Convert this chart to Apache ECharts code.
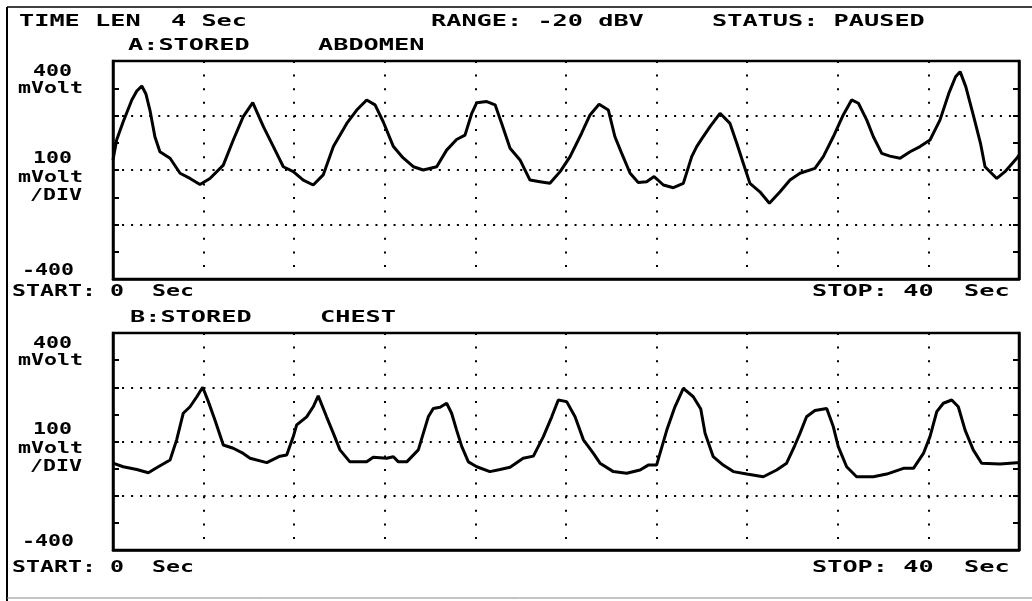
<!DOCTYPE html>
<html>
<head>
<meta charset="utf-8">
<script src="https://cdn.jsdelivr.net/npm/echarts@6/dist/echarts.min.js"></script>
<style>
  html, body { margin: 0; padding: 0; background: #fff; }
  #chart { width: 1032px; height: 601px; }
</style>
</head>
<body>
<div id="chart"></div>
<script>
// channel A (abdomen): time in sec, value in mVolt
const abdomenT = [0, 0.16, 0.45, 0.83, 1.05, 1.27, 1.45, 1.63, 1.85, 2.07, 2.52, 2.96, 3.4, 3.84, 4.28, 4.87,
  5.31, 5.75, 6.17, 6.64, 7.08, 7.52, 7.96, 8.4, 8.84, 9.28, 9.73, 10.32, 10.76, 11.2, 11.57, 11.93,
  12.38, 12.8, 13.26, 13.7, 14.29, 14.73, 15.17, 15.54, 15.84, 16.06, 16.5, 16.87, 17.16, 17.53, 17.97,
  18.41, 18.85, 19.29, 19.74, 20.18, 20.69, 21.06, 21.46, 21.87, 22.16, 22.46, 22.83, 23.19, 23.56,
  23.89, 24.3, 24.74, 25.18, 25.55, 25.77, 26.0, 26.36, 26.8, 27.24, 27.54, 27.83, 28.12, 28.56, 28.98,
  29.45, 29.89, 30.33, 30.99, 31.36, 31.8, 32.24, 32.61, 32.91, 33.28, 33.57, 33.94, 34.3, 34.75, 35.19,
  35.63, 36.07, 36.51, 36.9, 37.2, 37.4, 37.65, 38.0, 38.3, 38.5, 39.02, 39.38, 39.9, 40];
const abdomenV = [37, 110, 177, 257, 290, 308, 280, 220, 122, 67, 43, -12, -31, -53, -31, 18,
  110, 196, 247, 159, 86, 12, -6, -37, -55, -18, 86, 171, 220, 257, 239, 177,
  86, 45, 12, 0, 12, 73, 112, 128, 208, 247, 251, 239, 171, 80, 37,
  -37, -43, -49, -6, 49, 135, 202, 241, 220, 122, 61, -12, -46, -43,
  -24, -55, -65, -49, 49, 86, 115, 159, 208, 171, 98, 24, -49, -80, -122,
  -80, -37, -12, 6, 49, 122, 202, 257, 245, 183, 122, 61, 51, 43, 67,
  86, 110, 183, 281, 342, 361, 306, 196, 98, 12, -31, -6, 43, 55];

// channel B (chest)
const chestT = [0, 0.45, 1.05, 1.56, 2.0, 2.52, 2.81, 3.1, 3.4, 3.7, 3.96, 4.21, 4.5, 4.87, 5.31, 5.75,
  6.05, 6.79, 7.37, 7.67, 7.96, 8.11, 8.55, 8.84, 9.06, 9.43, 9.73, 10.02, 10.46, 11.2, 11.49, 12.08,
  12.38, 12.6, 12.97, 13.48, 13.7, 13.92, 14.14, 14.44, 14.73, 14.95, 15.17, 15.4, 15.69, 16.06, 16.64,
  17.09, 17.53, 18.11, 18.56, 19.0, 19.37, 19.66, 20.03, 20.4, 20.77, 21.21, 21.5, 22.09, 22.68, 23.27,
  23.63, 24.0, 24.15, 24.45, 24.81, 25.18, 25.62, 25.95, 26.14, 26.5, 26.94, 27.39, 27.98, 28.71, 29.3,
  29.74, 30.11, 30.33, 30.62, 30.99, 31.51, 31.8, 32.02, 32.39, 32.83, 33.57, 34.16, 34.9, 35.34, 35.78,
  36.07, 36.37, 36.66, 37.03, 37.32, 37.62, 37.98, 38.35, 39.16, 39.9, 40];
const chestV = [-80, -93, -103, -115, -93, -68, 6, 104, 128, 165, 200, 147, 79, -13, -25, -44,
  -62, -78, -54, -50, 18, 61, 91, 128, 168, 91, 30, -31, -75, -75, -58, -62,
  -56, -75, -75, -31, 30, 91, 122, 126, 141, 104, 42, -19, -75, -93, -111,
  -103, -95, -62, -54, 18, 91, 153, 147, 91, 6, -44, -80, -111, -117, -105,
  -87, -87, -44, 42, 128, 196, 165, 120, 30, -56, -87, -111, -120, -130, -105,
  -80, -13, 30, 91, 114, 122, 55, -19, -93, -130, -130, -120, -99, -99, -44,
  18, 110, 141, 153, 128, 42, -31, -80, -83, -78, -78];

const header = ['TIME LEN  4 Sec', 'RANGE: -20 dBV', 'STATUS: PAUSED'];
const channelA = ['A:STORED', 'ABDOMEN'];
const channelB = ['B:STORED', 'CHEST'];
const scaleTop = ['400', 'mVolt'];
const scaleMid = ['100', 'mVolt', '/DIV'];
const scaleBottom = '-400';
const startText = 'START: 0  Sec';
const stopText = 'STOP: 40  Sec';

const zip = (t, v) => t.map((x, i) => [x, v[i]]);

// DejaVu Sans Mono advance is ~0.602 em; stretch it to match the terminal cell width
const FONT_PX = 15;
function txt(s, x, y, pitch) {
  return {
    type: 'text', x: x, y: y,
    scaleX: pitch / (FONT_PX * 0.602),
    style: {
      text: s,
      font: 'bold ' + FONT_PX + 'px "DejaVu Sans Mono"',
      fill: '#000',
      verticalAlign: 'middle'
    }
  };
}

function panelLabels(top, zeroY, bottom) {
  return [
    txt(scaleTop[0], 33, top + 11, 13),
    txt(scaleTop[1], 18, top + 28, 13),
    txt(scaleMid[0], 33, zeroY - 11, 13),
    txt(scaleMid[1], 18, zeroY + 8, 13),
    txt(scaleMid[2], 30, zeroY + 26, 13),
    txt(scaleBottom, 22, bottom - 8, 13)
  ];
}

const grids = [
  { top: 61, height: 218 },
  { top: 333, height: 217 }
];

const xAxisBase = {
  type: 'value', min: 0, max: 40, interval: 4,
  axisLabel: { show: false }, axisTick: { show: false },
  axisLine: { show: true, onZero: false, lineStyle: { color: '#000', width: 2.5 } },
  splitLine: { show: true, lineStyle: { color: '#000', width: 2, type: [2, 11.6] } }
};
const yAxisBase = {
  type: 'value', min: -400, max: 400, interval: 200,
  axisLabel: { show: false },
  axisLine: { show: true, onZero: false, lineStyle: { color: '#000', width: 2.5 } },
  axisTick: { show: true, inside: true, length: 6, lineStyle: { color: '#000', width: 2 } },
  minorTick: { show: true, splitNumber: 2, length: 6, lineStyle: { color: '#000', width: 2 } },
  splitLine: { show: true, lineStyle: { color: '#000', width: 2, type: [2, 7.05] } }
};

const chart = echarts.init(document.getElementById('chart'), null, { renderer: 'canvas' });

const graphics = [
  { type: 'line', shape: { x1: 7, y1: 7, x2: 1032, y2: 7 }, style: { stroke: '#000', lineWidth: 1.5 } },
  { type: 'line', shape: { x1: 7, y1: 7, x2: 7, y2: 601 }, style: { stroke: '#000', lineWidth: 2 } },
  { type: 'line', shape: { x1: 7, y1: 598, x2: 1032, y2: 598 }, style: { stroke: '#888', lineWidth: 1 } },
  txt(header[0], 19, 22, 15.2),
  txt(header[1], 431, 22, 15.2),
  txt(header[2], 712, 22, 15.2),
  txt(channelA[0], 128, 46, 15.2),
  txt(channelA[1], 318, 46, 15.2),
  txt(startText, 12, 292, 14),
  txt(stopText, 812, 292, 15.2),
  txt(channelB[0], 130, 318, 15.2),
  txt(channelB[1], 320, 318, 15.2),
  txt(startText, 12, 568, 14),
  txt(stopText, 812, 568, 15.2)
].concat(panelLabels(61, 170, 279), panelLabels(333, 441.5, 550));

chart.setOption({
  animation: false,
  backgroundColor: '#fff',
  grid: grids.map(g => ({
    left: 113, right: 13, top: g.top, height: g.height,
    show: true, borderColor: '#000', borderWidth: 2.5
  })),
  xAxis: [
    Object.assign({ gridIndex: 0 }, xAxisBase),
    Object.assign({ gridIndex: 1 }, xAxisBase)
  ],
  yAxis: [
    Object.assign({ gridIndex: 0, position: 'left' }, yAxisBase),
    Object.assign({ gridIndex: 0, position: 'right' }, yAxisBase, { splitLine: { show: false } }),
    Object.assign({ gridIndex: 1, position: 'left' }, yAxisBase),
    Object.assign({ gridIndex: 1, position: 'right' }, yAxisBase, { splitLine: { show: false } })
  ],
  series: [
    {
      name: 'ABDOMEN', type: 'line', xAxisIndex: 0, yAxisIndex: 0,
      data: zip(abdomenT, abdomenV), showSymbol: false,
      lineStyle: { color: '#000', width: 3 }
    },
    {
      name: 'CHEST', type: 'line', xAxisIndex: 1, yAxisIndex: 2,
      data: zip(chestT, chestV), showSymbol: false,
      lineStyle: { color: '#000', width: 3 }
    }
  ],
  graphic: graphics
});
</script>
</body>
</html>
